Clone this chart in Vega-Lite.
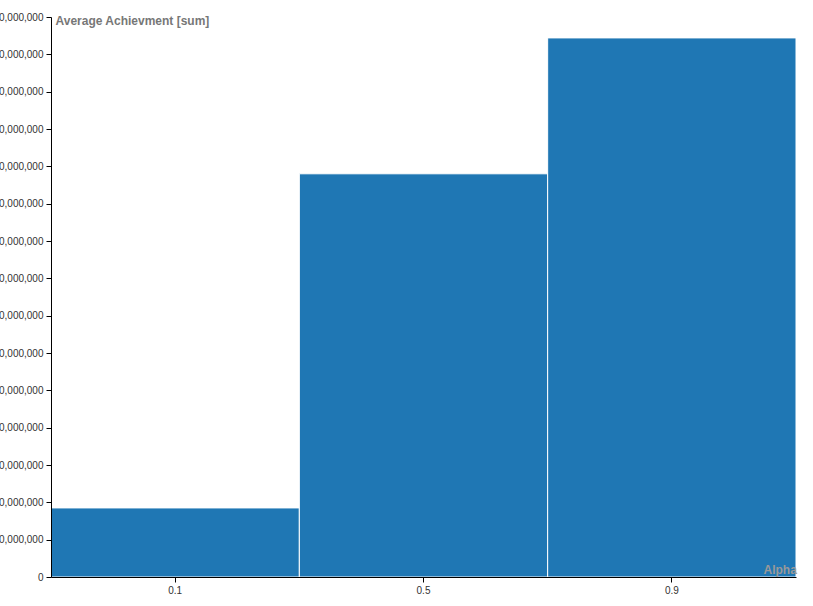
{
  "$schema": "https://vega.github.io/schema/vega-lite/v6.json",
  "autosize": {"type": "none"},
  "padding": {"left": 51, "top": 17, "right": 17, "bottom": 29},
  "width": 745,
  "height": 560,
  "background": "white",
  "config": {"view": {"stroke": null}, "font": "Liberation Sans"},
  "data": {"values": [
    {"Alpha": "0.1", "Average Achievment": 18500000},
    {"Alpha": "0.5", "Average Achievment": 108000000},
    {"Alpha": "0.9", "Average Achievment": 144400000}
  ]},
  "mark": {"type": "bar", "color": "#1f77b4", "stroke": "white", "strokeWidth": 1},
  "encoding": {
    "x": {
      "field": "Alpha", "type": "nominal",
      "scale": {"paddingInner": 0, "paddingOuter": 0},
      "axis": {
        "title": "Alpha", "labelAngle": 0, "labelFontSize": 10, "labelColor": "#333",
        "domainColor": "#000", "tickColor": "#000", "tickSize": 5, "labelPadding": 3,
        "titleX": 712, "titleY": -8, "titleAlign": "left", "titleBaseline": "middle",
        "titleColor": "#999", "titleFontSize": 12, "titleFontWeight": "bold", "zindex": 1
      }
    },
    "y": {
      "field": "Average Achievment", "type": "quantitative", "aggregate": "sum",
      "scale": {"domain": [0, 150000000], "nice": false},
      "axis": {
        "title": "Average Achievment [sum]",
        "values": [0, 10000000, 20000000, 30000000, 40000000, 50000000, 60000000, 70000000, 80000000, 90000000, 100000000, 110000000, 120000000, 130000000, 140000000, 150000000],
        "format": ",d", "grid": false, "labelFontSize": 10, "labelColor": "#333",
        "domainColor": "#000", "tickColor": "#000", "tickSize": 5, "labelPadding": 3,
        "titleAngle": 0, "titleX": 4, "titleY": -2, "titleAlign": "left", "titleBaseline": "top",
        "titleColor": "#777", "titleFontSize": 12, "titleFontWeight": "bold", "zindex": 1
      }
    }
  }
}
